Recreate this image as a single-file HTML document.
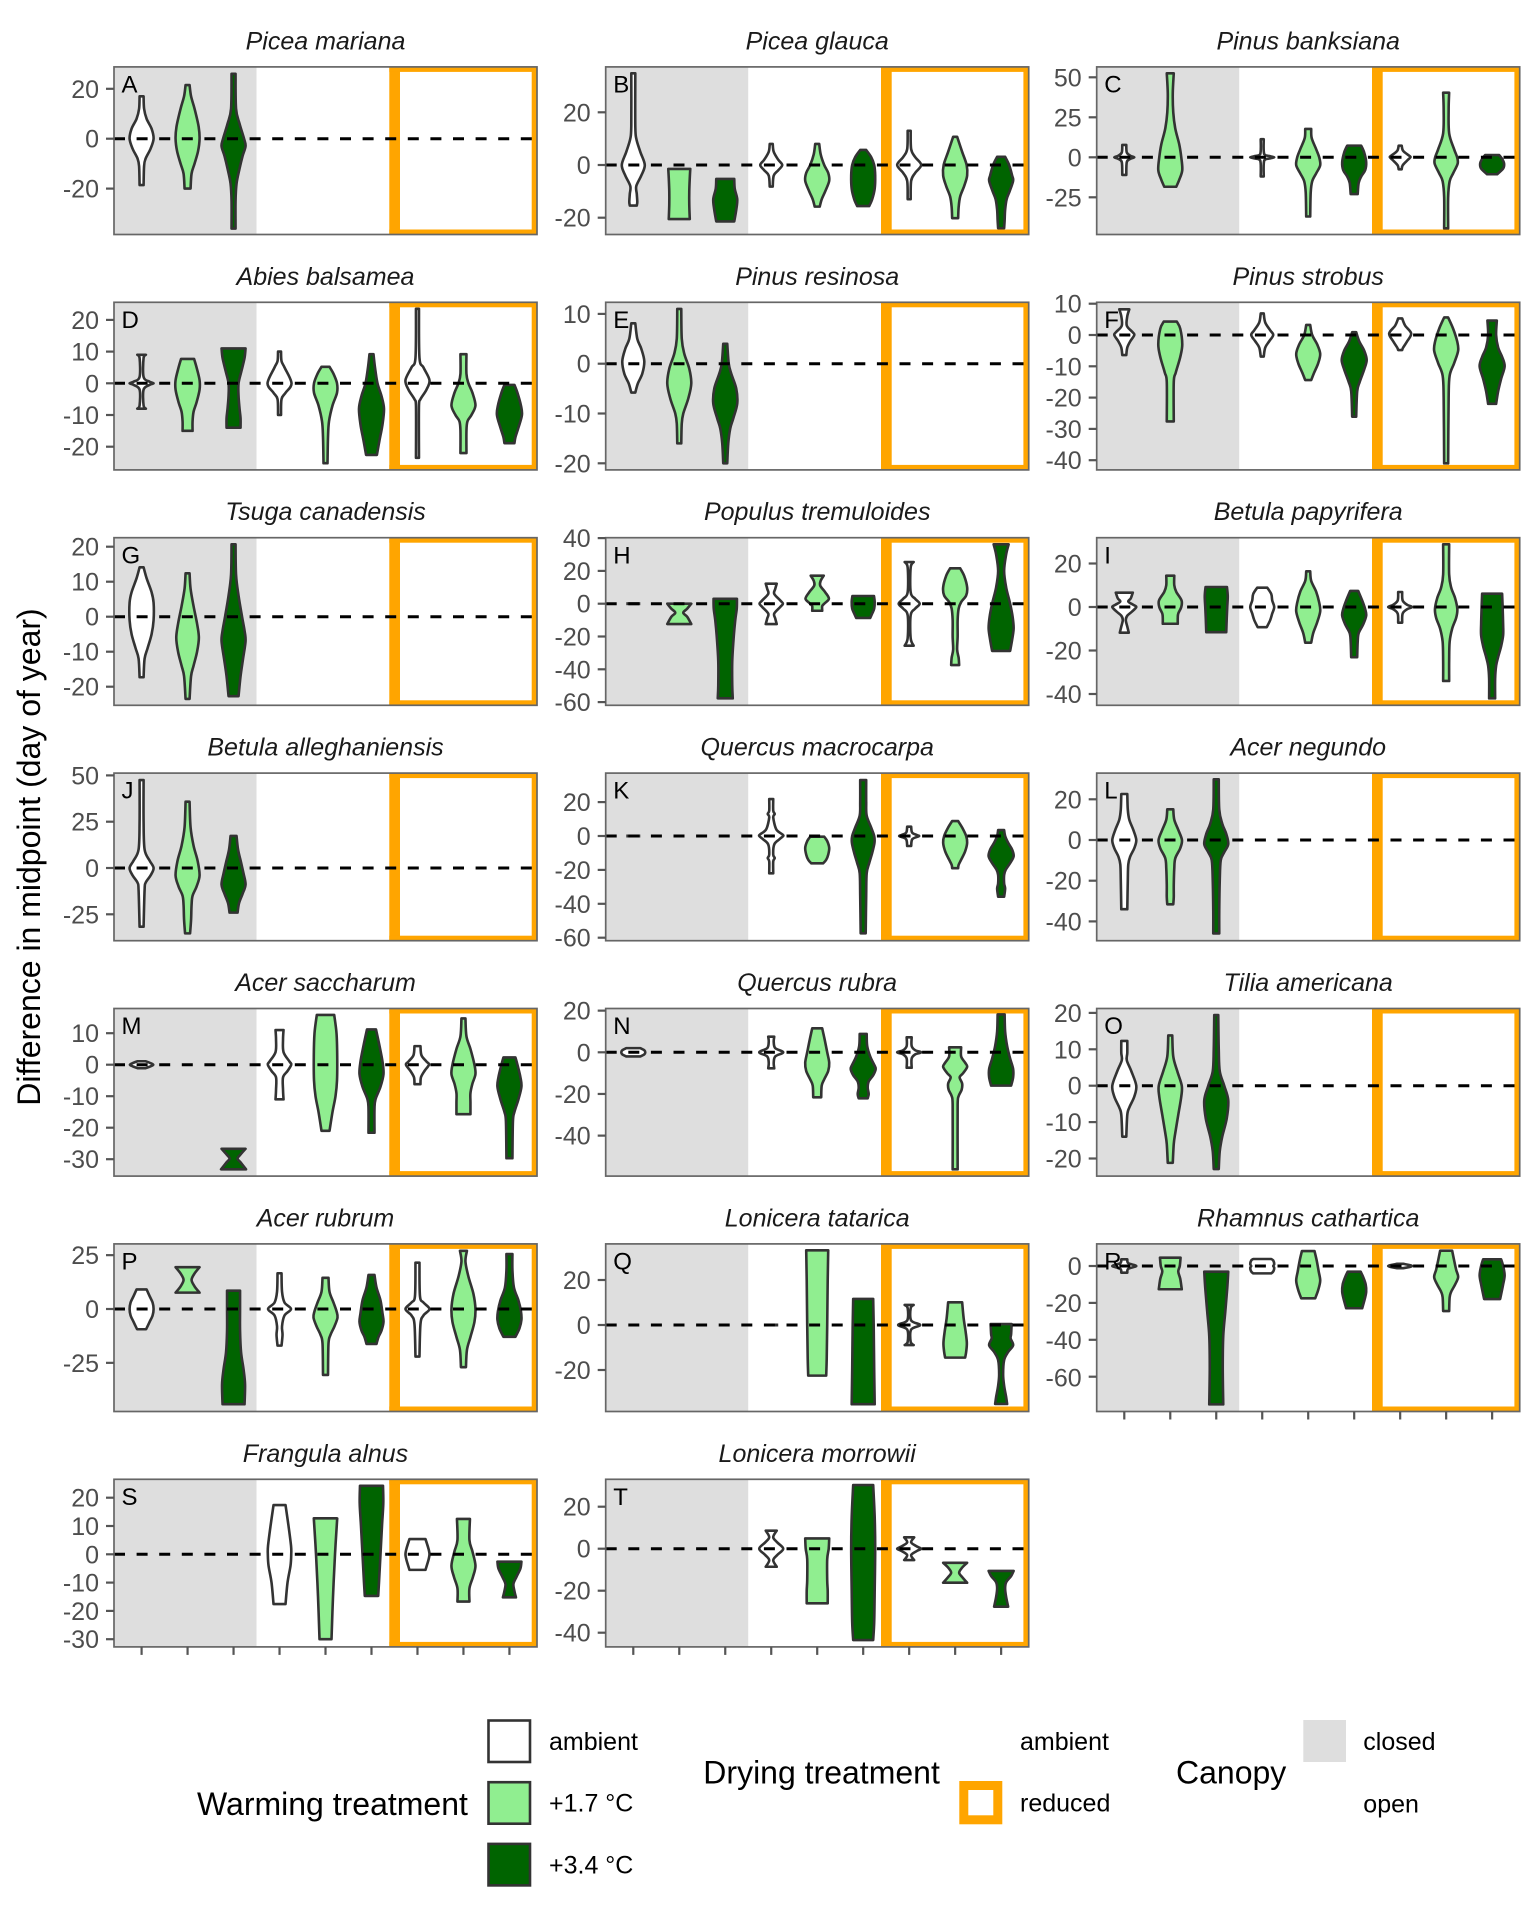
<!DOCTYPE html>
<html><head><meta charset="utf-8"><style>
html,body{margin:0;padding:0;background:#fff;}
svg{display:block;}
.t{font-family:"Liberation Sans",sans-serif;font-style:italic;font-size:25px;fill:#1a1a1a;text-anchor:middle;}
.k{font-family:"Liberation Sans",sans-serif;font-size:25px;fill:#4d4d4d;text-anchor:end;}
.l{font-family:"Liberation Sans",sans-serif;font-size:24px;fill:#000;}
.lt{font-family:"Liberation Sans",sans-serif;font-size:32px;fill:#000;}
.ll{font-family:"Liberation Sans",sans-serif;font-size:25px;fill:#000;}
</style></head><body>
<svg id="s" width="1536" height="1920" viewBox="0 0 1536 1920" xmlns="http://www.w3.org/2000/svg">
<rect x="0" y="0" width="1536" height="1920" fill="#fff"/>
<g id="pan"></g>
<g id="txt">
<!-- titles -->
<text class="t" x="325.5" y="49.4">Picea mariana</text>
<text class="t" x="817.2" y="49.4">Picea glauca</text>
<text class="t" x="1308.2" y="49.4">Pinus banksiana</text>
<text class="t" x="325.5" y="284.8">Abies balsamea</text>
<text class="t" x="817.2" y="284.8">Pinus resinosa</text>
<text class="t" x="1308.2" y="284.8">Pinus strobus</text>
<text class="t" x="325.5" y="520.2">Tsuga canadensis</text>
<text class="t" x="817.2" y="520.2">Populus tremuloides</text>
<text class="t" x="1308.2" y="520.2">Betula papyrifera</text>
<text class="t" x="325.5" y="755.6">Betula alleghaniensis</text>
<text class="t" x="817.2" y="755.6">Quercus macrocarpa</text>
<text class="t" x="1308.2" y="755.6">Acer negundo</text>
<text class="t" x="325.5" y="991">Acer saccharum</text>
<text class="t" x="817.2" y="991">Quercus rubra</text>
<text class="t" x="1308.2" y="991">Tilia americana</text>
<text class="t" x="325.5" y="1226.4">Acer rubrum</text>
<text class="t" x="817.2" y="1226.4">Lonicera tatarica</text>
<text class="t" x="1308.2" y="1226.4">Rhamnus cathartica</text>
<text class="t" x="325.5" y="1461.8">Frangula alnus</text>
<text class="t" x="817.2" y="1461.8">Lonicera morrowii</text>
<!-- panel letters -->
<text class="l" x="121.5" y="92.5">A</text>
<text class="l" x="613.2" y="92.5">B</text>
<text class="l" x="1104.2" y="92.5">C</text>
<text class="l" x="121.5" y="327.9">D</text>
<text class="l" x="613.2" y="327.9">E</text>
<text class="l" x="1104.2" y="327.9">F</text>
<text class="l" x="121.5" y="563.3">G</text>
<text class="l" x="613.2" y="563.3">H</text>
<text class="l" x="1104.2" y="563.3">I</text>
<text class="l" x="121.5" y="798.7">J</text>
<text class="l" x="613.2" y="798.7">K</text>
<text class="l" x="1104.2" y="798.7">L</text>
<text class="l" x="121.5" y="1034.1">M</text>
<text class="l" x="613.2" y="1034.1">N</text>
<text class="l" x="1104.2" y="1034.1">O</text>
<text class="l" x="121.5" y="1269.5">P</text>
<text class="l" x="613.2" y="1269.5">Q</text>
<text class="l" x="1104.2" y="1269.5">R</text>
<text class="l" x="121.5" y="1504.9">S</text>
<text class="l" x="613.2" y="1504.9">T</text>
<!-- tick labels -->
<text class="k" x="99" y="98">20</text><text class="k" x="99" y="147.7">0</text><text class="k" x="99" y="197.6">-20</text>
<text class="k" x="590.7" y="121.3">20</text><text class="k" x="590.7" y="174">0</text><text class="k" x="590.7" y="226.7">-20</text>
<text class="k" x="1081.7" y="86.3">50</text><text class="k" x="1081.7" y="126.3">25</text><text class="k" x="1081.7" y="166.3">0</text><text class="k" x="1081.7" y="206.3">-25</text>
<text class="k" x="99" y="328.9">20</text><text class="k" x="99" y="360.6">10</text><text class="k" x="99" y="392.3">0</text><text class="k" x="99" y="424">-10</text><text class="k" x="99" y="455.7">-20</text>
<text class="k" x="590.7" y="322.9">10</text><text class="k" x="590.7" y="372.7">0</text><text class="k" x="590.7" y="422.5">-10</text><text class="k" x="590.7" y="472.3">-20</text>
<text class="k" x="1081.7" y="312.7">10</text><text class="k" x="1081.7" y="344">0</text><text class="k" x="1081.7" y="375.3">-10</text><text class="k" x="1081.7" y="406.6">-20</text><text class="k" x="1081.7" y="437.9">-30</text><text class="k" x="1081.7" y="469.2">-40</text>
<text class="k" x="99" y="555.7">20</text><text class="k" x="99" y="590.7">10</text><text class="k" x="99" y="625.7">0</text><text class="k" x="99" y="660.7">-10</text><text class="k" x="99" y="695.7">-20</text>
<text class="k" x="590.7" y="547.1">40</text><text class="k" x="590.7" y="579.9">20</text><text class="k" x="590.7" y="612.7">0</text><text class="k" x="590.7" y="645.5">-20</text><text class="k" x="590.7" y="678.3">-40</text><text class="k" x="590.7" y="711.1">-60</text>
<text class="k" x="1081.7" y="572.5">20</text><text class="k" x="1081.7" y="616">0</text><text class="k" x="1081.7" y="659.5">-20</text><text class="k" x="1081.7" y="703">-40</text>
<text class="k" x="99" y="784.4">50</text><text class="k" x="99" y="830.7">25</text><text class="k" x="99" y="877">0</text><text class="k" x="99" y="923.3">-25</text>
<text class="k" x="590.7" y="811.1">20</text><text class="k" x="590.7" y="845">0</text><text class="k" x="590.7" y="878.9">-20</text><text class="k" x="590.7" y="912.8">-40</text><text class="k" x="590.7" y="946.7">-60</text>
<text class="k" x="1081.7" y="808.3">20</text><text class="k" x="1081.7" y="849">0</text><text class="k" x="1081.7" y="889.7">-20</text><text class="k" x="1081.7" y="930.4">-40</text>
<text class="k" x="99" y="1042.2">10</text><text class="k" x="99" y="1073.7">0</text><text class="k" x="99" y="1105.2">-10</text><text class="k" x="99" y="1136.7">-20</text><text class="k" x="99" y="1168.2">-30</text>
<text class="k" x="590.7" y="1019.6">20</text><text class="k" x="590.7" y="1061.3">0</text><text class="k" x="590.7" y="1103">-20</text><text class="k" x="590.7" y="1144.6">-40</text>
<text class="k" x="1081.7" y="1021.9">20</text><text class="k" x="1081.7" y="1058.3">10</text><text class="k" x="1081.7" y="1094.7">0</text><text class="k" x="1081.7" y="1131.1">-10</text><text class="k" x="1081.7" y="1167.5">-20</text>
<text class="k" x="99" y="1264.1">25</text><text class="k" x="99" y="1318">0</text><text class="k" x="99" y="1371.9">-25</text>
<text class="k" x="590.7" y="1289">20</text><text class="k" x="590.7" y="1334">0</text><text class="k" x="590.7" y="1379">-20</text>
<text class="k" x="1081.7" y="1275">0</text><text class="k" x="1081.7" y="1312.1">-20</text><text class="k" x="1081.7" y="1349.2">-40</text><text class="k" x="1081.7" y="1386.3">-60</text>
<text class="k" x="99" y="1506.7">20</text><text class="k" x="99" y="1535">10</text><text class="k" x="99" y="1563.3">0</text><text class="k" x="99" y="1591.6">-10</text><text class="k" x="99" y="1619.9">-20</text><text class="k" x="99" y="1648.2">-30</text>
<text class="k" x="590.7" y="1515.7">20</text><text class="k" x="590.7" y="1557.7">0</text><text class="k" x="590.7" y="1599.7">-20</text><text class="k" x="590.7" y="1641.7">-40</text>
<!-- axis title -->
<text class="lt" transform="translate(40,857) rotate(-90)" text-anchor="middle">Difference in midpoint (day of year)</text>
<!-- legend -->
<text class="lt" x="197" y="1815">Warming treatment</text>
<rect x="488.5" y="1720.5" width="41.5" height="41.5" fill="#ffffff" stroke="#333" stroke-width="2.6"/>
<rect x="488.5" y="1782.2" width="41.5" height="41.5" fill="#90ee90" stroke="#333" stroke-width="2.6"/>
<rect x="488.5" y="1843.9" width="41.5" height="41.5" fill="#006400" stroke="#333" stroke-width="2.6"/>
<text class="ll" x="549" y="1750">ambient</text>
<text class="ll" x="549" y="1811.7">+1.7 °C</text>
<text class="ll" x="549" y="1873.3">+3.4 °C</text>
<text class="lt" x="703.3" y="1783.3">Drying treatment</text>
<rect x="963.8" y="1785.5" width="34" height="34.3" fill="#fff" stroke="#ffa500" stroke-width="9"/>
<text class="ll" x="1020" y="1750">ambient</text>
<text class="ll" x="1020" y="1811.7">reduced</text>
<text class="lt" x="1176" y="1783.3">Canopy</text>
<rect x="1303.3" y="1720" width="42.7" height="42" fill="#dedede"/>
<text class="ll" x="1363.3" y="1750">closed</text>
<text class="ll" x="1363.3" y="1812.5">open</text>
</g>
</svg>
<script>
(function(){
var CL=[114,605.7,1096.7],W=423,H=167.6,T0=66.9,RP=235.4,U=45.98;
var FI=['#ffffff','#90ee90','#006400'];
var D={
A:[0,0,138.7,2.495,[20,0,-20],{
1:[[17,2],[12,2.5],[8,5],[4,10],[0,12],[-4,9],[-8,4],[-11,2.5],[-18.6,2]],
2:[[21.5,2],[17,3.5],[12,7],[5,11],[0,12],[-5,10.5],[-10,7],[-14,4],[-20,3]],
3:[[26,2],[12,2.5],[6,6],[0,10.5],[-3,12],[-7,9],[-12,6],[-18,3],[-25,2],[-36,2]]}],
B:[1,0,165,2.635,[20,0,-20],{
1:[[34.8,2],[15,2],[10,3],[5,7],[0,11.5],[-4,8],[-8,3],[-11,3.5],[-14,4],[-15.4,3.5]],
2:[[-1.5,11],[-5,10.5],[-10,10],[-15,10],[-20.5,10.5]],
3:[[-5.3,9],[-9,9.5],[-13,12],[-17,11],[-21.4,9]],
4:[[8,1.5],[5,2.5],[2,7],[0,11],[-2,7],[-4,2.5],[-8.2,1.5]],
5:[[8,2],[4,3.5],[0,7],[-3,11],[-6,12],[-10,8],[-13,4.5],[-15.8,2.5]],
6:[[5.7,3],[3,8],[0,11],[-4,12],[-9,11.5],[-13,9],[-15.6,6]],
7:[[13,1.5],[6,2],[3,6],[0,12],[-3,6],[-6,2],[-13,1.5]],
8:[[10.7,2],[5,7],[0,11.5],[-4,12],[-8,9],[-12,5],[-16,3.5],[-20.2,3]],
9:[[3.1,4],[0,8],[-4,11],[-6,12],[-10,8.5],[-13,5.5],[-17,4],[-21,3.5],[-24,3]]}],
C:[2,0,157.3,1.6,[50,25,0,-25],{
1:[[7.7,2],[3,2.5],[1,6],[0,10],[-1,6],[-3,2.5],[-11,2]],
2:[[52.5,3.5],[40,2.5],[28,3],[18,5],[8,9],[0,11],[-8,12],[-14,9],[-18.4,6]],
4:[[11.3,1.5],[2,2],[0.7,8],[0,12],[-0.7,8],[-2,2],[-12,1.5]],
5:[[17.7,3],[12,3.5],[5,8],[0,11],[-5,12],[-10,8],[-15,4],[-22,2.5],[-37,2]],
6:[[7.3,7],[3,10],[-3,12],[-8,11],[-12,7],[-16,4.5],[-23,3.5]],
7:[[7.3,1.5],[4,3],[1,9],[0,10.3],[-2,7],[-5,2.5],[-7.5,1.5]],
8:[[40.4,3],[30,2.5],[15,3],[5,8],[0,11],[-4,11.5],[-10,7],[-15,3.5],[-25,2],[-44.4,2]],
9:[[1.4,7],[-1,10],[-4,12],[-7,11],[-10.6,5]]}],
D:[0,1,383.3,3.17,[20,10,0,-10,-20],{
1:[[9,4.3],[8,2],[2,2],[0.5,8],[0,12],[-0.5,8],[-2,2],[-7,2],[-8,4.3]],
2:[[7.7,6.5],[5,9],[1,12],[-2,12],[-6,9],[-9,6],[-12,5],[-15,5]],
3:[[11,12],[8,11],[4,8],[0,5],[-4,5],[-8,6],[-11,7],[-14,7]],
4:[[10,1.5],[7,2],[5,5],[0,12],[-3,6],[-5,2],[-10,1.5]],
5:[[5.2,4],[3,8],[0,11.5],[-3,11.5],[-7,7],[-12,3.5],[-17,2.5],[-25.2,2]],
6:[[9.2,2],[5,3.5],[0,6],[-4,10],[-8,12.5],[-13,11],[-18,8],[-22.6,5.4]],
7:[[23.5,1.5],[8,2],[5,6],[1,12],[-2,9],[-5,3],[-7,1.5],[-23.5,1.5]],
8:[[9.2,3],[3,3],[0,5],[-3,9],[-7,12],[-10,8],[-12,4],[-15,3],[-22,3]],
9:[[-0.5,5],[-3,8],[-7,11.5],[-10,12.5],[-14,9],[-17,6],[-18.9,5]]}],
E:[1,1,363.7,4.98,[10,0,-10,-20],{
1:[[8.1,2],[5,4],[3,8],[0.5,11],[-2,9],[-4,4.5],[-5.8,2]],
2:[[11,2],[5,2.5],[2,5],[-1,10],[-4,12],[-7,9],[-10,4],[-12,2.5],[-16,2]],
3:[[4,2],[0,3.5],[-2,6],[-5,11],[-8,12],[-11,8],[-13,5],[-16,3],[-20,2]]}],
F:[2,1,335,3.13,[10,0,-10,-20,-30,-40],{
1:[[8.2,5],[6,3],[3,2.5],[1,8],[0,10],[-2,6],[-4,3],[-6.4,2]],
2:[[4.3,6.5],[2,10],[-3,12],[-7,10],[-12,5.5],[-15,3.5],[-27.6,3.5]],
4:[[6.9,1.5],[4,3],[1.5,8],[0,11],[-2,7],[-4,3],[-6.9,1.5]],
5:[[3.2,2],[0,4],[-3,9],[-6,12],[-9,10],[-12,6],[-14.4,3]],
6:[[0.9,2],[-2,5],[-5,10],[-8,12.5],[-11,10],[-15,5.5],[-18,3],[-26.1,2]],
7:[[5.3,2],[3,5],[0.5,11],[-2,7],[-4,3],[-4.8,2]],
8:[[5.6,2],[2,7],[-2,11],[-5,12],[-9,8],[-13,3.5],[-20,2.5],[-41,2]],
9:[[4.6,4.7],[0,4],[-4,6],[-7,10],[-10,12.5],[-14,9],[-18,6],[-22,4]]}],
G:[0,2,616.7,3.5,[20,10,0,-10,-20],{
1:[[14.1,2],[11,5],[7,10],[4,12],[-1,12],[-5,10],[-9,6],[-12,3],[-17.3,2]],
2:[[12.4,2],[8,3],[3,6],[-2,9.5],[-6,11.3],[-10,9.5],[-14,6],[-17,3.5],[-23.5,2]],
3:[[20.7,2],[12,2.5],[6,5],[0,8.5],[-4,11],[-7,12],[-12,9.5],[-17,7],[-22.7,5]]}],
H:[1,2,603.7,1.64,[40,20,0,-20,-40,-60],{
1:'L',
2:[[0,12],[-3,8],[-5.5,4],[-8,8],[-12.4,12]],
3:[[3,11.7],[-3,11.5],[-10,10],[-20,8.5],[-35,7],[-50,7],[-57.7,7.5]],
4:[[12.2,5.5],[9,4],[6,3],[2,9],[0,11.7],[-2,9],[-6,3],[-9,4],[-12.4,5.5]],
5:[[17.1,6.5],[14,3.5],[11,3],[7,8],[3,11.7],[0,7],[-1.5,5],[-4.3,5]],
6:[[4.7,10.8],[1,11.5],[-3,11],[-6,9],[-8.7,7]],
7:[[25.4,4.5],[22,1.5],[7,1.5],[3,6],[0,10.5],[-3,6],[-7,1.5],[-21,1.5],[-25.6,4.5]],
8:[[21.6,5],[17,9],[10,12],[5,11],[1,6],[-3,3.5],[-10,2.5],[-20,2.5],[-28,2],[-33,3.5],[-37.4,4]],
9:[[36.2,7.5],[30,5],[20,3],[10,5],[0,9],[-8,11.5],[-15,12.5],[-22,11],[-28.8,9]]}],
I:[2,2,607,2.175,[20,0,-20,-40],{
1:[[6.6,8.5],[4,6.5],[2.5,4],[1,9],[0,12],[-2,8],[-4,3],[-6,1.5],[-9,3],[-11.8,4.5]],
2:[[14.4,4],[10,4],[7,6],[3,11.3],[0,11],[-3,8],[-5,7.5],[-7.7,7.5]],
3:[[9.2,10.7],[5,11.5],[0,11],[-5,10.5],[-11.6,10]],
4:[[8.9,5],[6,9],[3,10],[0,12],[-3,10],[-6,8],[-9.3,4.5]],
5:[[16.4,2],[12,3],[7,8],[2,11],[-2,12],[-7,9],[-12,5],[-16.4,3]],
6:[[7.4,4],[3,8],[-1,11],[-4,12],[-8,9],[-12,4.5],[-16,3.5],[-23.1,3]],
7:[[6.9,2],[3,2.5],[1,7],[0,12],[-1,7],[-3,2.5],[-7.2,2]],
8:[[28.8,3],[15,3],[9,5],[4,9],[-1,11.2],[-5,10],[-10,6],[-16,3.5],[-25,3],[-34,3]],
9:[[6.1,10],[0,10.5],[-8,11],[-13,11],[-18,9],[-23,6],[-27,4],[-33,3],[-42,3]]}],
J:[0,3,868,1.852,[50,25,0,-25],{
1:[[47.5,2],[25,2],[10,3],[4,8],[0,12],[-4,9],[-8,4],[-12,3],[-31.7,2]],
2:[[35.8,2],[22,3],[12,6],[4,10],[-4,12],[-10,9],[-15,5],[-20,4],[-28,3.5],[-35.3,2.5]],
3:[[17.3,3],[10,4.5],[3,7.5],[-3,10],[-9,12],[-14,9],[-19,5.5],[-24.1,4]]}],
K:[1,3,836,1.695,[20,0,-20,-40,-60],{
1:'L',
4:[[21.8,2],[15,2],[13,3.5],[11,2],[4,5],[1,11],[0,12],[-2,8],[-5,3],[-11,2],[-13,3.5],[-15,2],[-22,2]],
5:[[-0.4,7],[-3,10],[-7,12],[-11,11],[-14,9],[-16.1,6]],
6:[[33,3],[20,3],[12,3.5],[5,8],[0,11],[-4,11.3],[-10,9],[-16,6],[-22,3.5],[-35,3],[-57.4,2.5]],
7:[[5.5,2],[2,3],[0.5,8],[0,10],[-0.5,8],[-2,3],[-5.9,2]],
8:[[8.8,3],[5,7],[0,11],[-4,12],[-9,10],[-14,6],[-17,3.5],[-19,3]],
9:[[3.5,3],[0,4],[-4,7],[-8,11],[-12,12.5],[-16,9],[-20,4.5],[-23,3],[-28,3],[-31,4],[-35.8,3]]}],
L:[2,3,840,2.035,[20,0,-20,-40],{
1:[[22.6,3],[15,3.5],[10,5],[5,9],[0,12],[-4,10],[-8,6],[-12,4],[-20,3.5],[-34,3]],
2:[[15.1,3],[10,4],[5,8],[0,11.7],[-4,10],[-9,5],[-14,4],[-22,3.5],[-28,3.5],[-31.6,3]],
3:[[29.8,2.5],[15,3],[8,6],[3,10],[-2,12],[-6,8],[-10,4.5],[-20,3.5],[-35,3],[-45.9,3]]}],
M:[0,4,1064.7,3.15,[10,0,-10,-20,-30],{
1:[[1.1,4],[0.5,9],[0,11.7],[-0.5,9],[-1.1,4]],
3:[[-26.7,12],[-28.5,7],[-29.8,4],[-31,7],[-33.2,12.5]],
4:[[11,4],[8,3.5],[4,4],[1,10],[0,11.7],[-2,8],[-4,3.5],[-8,3.5],[-11,4]],
5:[[15.8,8.7],[10,11],[3,11.7],[-5,11.5],[-10,10],[-15,7],[-21,4]],
6:[[11.2,4.5],[6,8],[1,11],[-3,12],[-7,9],[-11,4],[-14,3],[-21.6,3]],
7:[[5.9,3],[3,4],[1,9],[0,11.5],[-2,7],[-4,3.5],[-6.2,3]],
8:[[14.7,2],[9,3],[5,7],[0,11],[-3,12],[-6,9],[-9,7],[-12,7],[-15.7,7]],
9:[[2.3,6],[0,8],[-4,11],[-7,12],[-11,9],[-15,5],[-18,3.5],[-29.7,3]]}],
N:[1,4,1052.3,2.083,[20,0,-20,-40],{
1:[[2,7],[1,11],[0,12],[-1,11],[-2,7]],
4:[[7.5,3],[5,2.5],[2,4],[0,12],[-2,4],[-5,2.5],[-7.7,3]],
5:[[11.5,5],[6,7.5],[0,10],[-5,12],[-9,11],[-13,7],[-16,4.5],[-21.6,4]],
6:[[8.8,3.5],[3,4],[-2,7],[-6,11],[-8,12.5],[-11,10],[-14,5.5],[-17,4.5],[-20,5.5],[-22.1,4.5]],
7:[[7.2,2.5],[3,2.5],[1,6],[0,12],[-1,6],[-3,2.5],[-7.4,2.5]],
8:[[2.4,6],[-2,6],[-5,10],[-7,12],[-10,8],[-12,4.5],[-15,7],[-18,6.5],[-21,3.5],[-25,2.5],[-56.2,2.5]],
9:[[18.2,3.5],[10,4],[3,6],[-3,9],[-8,12],[-12,12],[-16,10]]}],
O:[2,4,1085.7,3.64,[20,10,0,-10,-20],{
1:[[12.3,3],[9,3],[7,2.5],[4,7],[0,12],[-3,10],[-6,5],[-8,3],[-14,2]],
2:[[13.8,2],[8,3],[4,7],[0,11.5],[-3,11],[-8,8],[-13,5],[-16,3.5],[-21.2,2.5]],
3:[[19.4,2],[10,2.5],[4,3.5],[0,8],[-4,12],[-9,10.5],[-14,6],[-18,3.5],[-22.9,2.5]]}],
P:[0,5,1309,2.154,[25,0,-25],{
1:[[9.1,5],[6,8],[3,11],[0,12],[-3,11],[-6,8],[-9.4,4.5]],
2:[[19.4,12],[16.5,7],[13.5,4],[10.5,7],[7.6,12]],
3:[[8.5,6.5],[0,6.5],[-10,6.5],[-20,7.5],[-28,10],[-35,11.5],[-44.2,11]],
4:[[16.6,2],[8,2.5],[3,5],[0,11.5],[-3,5],[-8,2.5],[-12,3],[-17,2]],
5:[[14.5,3],[8,4],[3,8],[-1,11],[-4,12],[-8,9],[-12,5],[-16,3],[-30.6,2.5]],
6:[[15.8,3],[10,5],[4,9],[-2,11],[-6,12],[-10,10],[-13,7],[-16.2,5]],
7:[[21.5,2],[6,2.5],[3,6],[0,12],[-3,6],[-7,3],[-22.1,2]],
8:[[27,3.5],[22,2],[15,5],[7,10],[0,12],[-6,11],[-13,7],[-19,3.5],[-27,2.5]],
9:[[25.5,3],[18,3],[10,4.5],[4,9],[-1,11.5],[-5,12],[-9,10],[-12.9,6]]}],
Q:[1,5,1325,2.25,[20,0,-20],{
4:'L',
5:[[33.2,11],[20,10.5],[0,10],[-15,9.5],[-22.5,9]],
6:[[11.6,10],[0,10.5],[-20,11],[-35.2,11.5]],
7:[[8.9,4.5],[7.5,1.5],[2,2],[0,11],[-2,2],[-7.5,1.5],[-8.9,4.5]],
8:[[10.1,7],[3,8.5],[-3,10.5],[-8,11.7],[-12,11],[-14.5,10]],
9:[[0.4,10.5],[-4,10],[-6,9.5],[-9,12],[-12,7],[-15.6,3],[-22,2],[-27,3],[-32,5],[-35.1,6]]}],
R:[2,5,1266,1.845,[0,-20,-40,-60],{
1:[[3.6,3],[1.5,4],[0,12],[-1.5,4],[-3.6,3]],
2:[[4.5,10.3],[0,9.5],[-3,8],[-7,10],[-12.6,11.5]],
3:[[-3.1,12],[-12,11],[-25,9],[-38,7],[-55,6.5],[-75,7]],
4:[[3.8,9],[3,11],[1,12],[0,11],[-1,12],[-3,11],[-4,9]],
5:[[8.1,6.3],[3,8.5],[-3,10.5],[-8,12],[-13,10],[-17.5,7]],
6:[[-3.1,6.5],[-6,9],[-10,11.5],[-14,12],[-18,10.5],[-22.9,8]],
7:[[1.2,3],[0,12],[-1.2,3]],
8:[[8.3,6],[3,8],[-2,10],[-6,12],[-10,9],[-14,5],[-17,3.5],[-24.4,3]],
9:[[3.6,9],[0,11],[-5,12.5],[-10,11],[-14,9.5],[-17.9,8]]}],
S:[0,6,1554.3,2.83,[20,10,0,-10,-20,-30],{
4:[[17.4,6],[10,9],[3,11.5],[0,11.7],[-4,11],[-10,8],[-17.6,6]],
5:[[12.7,11.7],[0,9.5],[-15,7.5],[-30,6]],
6:[[24.2,11.5],[18,11.8],[10,10.5],[0,9],[-10,7.5],[-14.7,6.7]],
7:[[5.4,8],[2,11],[0,12],[-2,11],[-5.5,8]],
8:[[12.5,6.5],[5,6],[1,9],[-4,12],[-8,9.5],[-12,6],[-16.7,6]],
9:[[-2.6,12],[-5,11],[-8,7],[-10.5,4],[-13,5],[-15.2,6.5]]}],
T:[1,6,1548.7,2.1,[20,0,-20,-40],{
4:[[8.6,5.5],[5.5,2],[3,6],[0,12],[-3,6],[-5.5,2],[-8.6,5.5]],
5:[[4.9,12],[0,11.5],[-5,10],[-15,10],[-20,10.5],[-26,10.5]],
6:[[30.3,10],[15,11.5],[0,12],[-20,11.5],[-35,11],[-43.5,10]],
7:[[5.4,5],[3,2],[1,8],[0,12],[-1,8],[-3,2],[-5.4,5]],
8:[[-6.7,12],[-9,7],[-11.4,4],[-13.5,7],[-16.2,12]],
9:[[-10.6,12.5],[-13,10],[-16,5],[-19,4],[-23,5],[-27.6,7]]}]
};
function f(n){return (Math.round(n*100)/100).toString();}
function cr(P){
  var s='';
  for(var i=0;i<P.length-1;i++){
    var p0=P[Math.max(i-1,0)],p1=P[i],p2=P[i+1],p3=P[Math.min(i+2,P.length-1)];
    var c1x=p1[0]+(p2[0]-p0[0])/6,c1y=p1[1]+(p2[1]-p0[1])/6;
    var c2x=p2[0]-(p3[0]-p1[0])/6,c2y=p2[1]-(p3[1]-p1[1])/6;
    var lo=Math.min(p1[1],p2[1]),hi=Math.max(p1[1],p2[1]);
    c1y=Math.max(lo,Math.min(hi,c1y));c2y=Math.max(lo,Math.min(hi,c2y));
    s+='C'+f(c1x)+','+f(c1y)+' '+f(c2x)+','+f(c2y)+' '+f(p2[0])+','+f(p2[1]);
  }
  return s;
}
function vp(cx,y0,k,pts){
  var L=pts.map(function(p){return [cx-p[1],y0-p[0]*k];});
  var R=pts.map(function(p){return [cx+p[1],y0-p[0]*k];}).reverse();
  return 'M'+f(L[0][0])+','+f(L[0][1])+cr(L)+'L'+f(R[0][0])+','+f(R[0][1])+cr(R)+'Z';
}
var out='';
var bottomTick={S:1,T:1,R:1};
for(var key in D){
  var d=D[key],c=d[0],r=d[1],y0=d[2],k=d[3],ticks=d[4],V=d[5];
  var left=CL[c],top=T0+r*RP;
  out+='<rect x="'+f(left)+'" y="'+f(top)+'" width="'+W+'" height="'+H+'" fill="#fff"/>';
  out+='<rect x="'+f(left)+'" y="'+f(top)+'" width="142.5" height="'+H+'" fill="#dedede"/>';
  var ox=left+275.3;
  out+='<rect x="'+f(ox)+'" y="'+f(top)+'" width="10.7" height="'+H+'" fill="#ffa500"/>';
  out+='<rect x="'+f(ox)+'" y="'+f(top)+'" width="'+f(left+W-ox)+'" height="5" fill="#ffa500"/>';
  out+='<rect x="'+f(ox)+'" y="'+f(top+H-5)+'" width="'+f(left+W-ox)+'" height="5" fill="#ffa500"/>';
  out+='<rect x="'+f(left+W-5.3)+'" y="'+f(top)+'" width="5.3" height="'+H+'" fill="#ffa500"/>';
  for(var xi in V){
    var cx=left+(xi-0.4)*U;
    if(V[xi]==='L'){
      out+='<line x1="'+f(cx-7)+'" y1="'+f(y0)+'" x2="'+f(cx+7)+'" y2="'+f(y0)+'" stroke="#333" stroke-width="3"/>';
    } else {
      out+='<path d="'+vp(cx,y0,k,V[xi])+'" fill="'+FI[(xi-1)%3]+'" stroke="#333" stroke-width="2.6" stroke-linejoin="round"/>';
    }
  }
  out+='<line x1="'+f(left)+'" y1="'+f(y0)+'" x2="'+f(left+W)+'" y2="'+f(y0)+'" stroke="#000" stroke-width="3" stroke-dasharray="11 11.6"/>';
  out+='<rect x="'+f(left)+'" y="'+f(top)+'" width="'+W+'" height="'+H+'" fill="none" stroke="#666" stroke-width="1.7"/>';
  for(var t=0;t<ticks.length;t++){
    var ty=y0-ticks[t]*k;
    out+='<line x1="'+f(left-8)+'" y1="'+f(ty)+'" x2="'+f(left)+'" y2="'+f(ty)+'" stroke="#555" stroke-width="2.2"/>';
  }
  if(bottomTick[key]){
    for(var q=1;q<=9;q++){
      var tx=left+(q-0.4)*U;
      out+='<line x1="'+f(tx)+'" y1="'+f(top+H)+'" x2="'+f(tx)+'" y2="'+f(top+H+8)+'" stroke="#555" stroke-width="2.2"/>';
    }
  }
}
document.getElementById('pan').innerHTML=out;
})();
</script>
</body></html>
